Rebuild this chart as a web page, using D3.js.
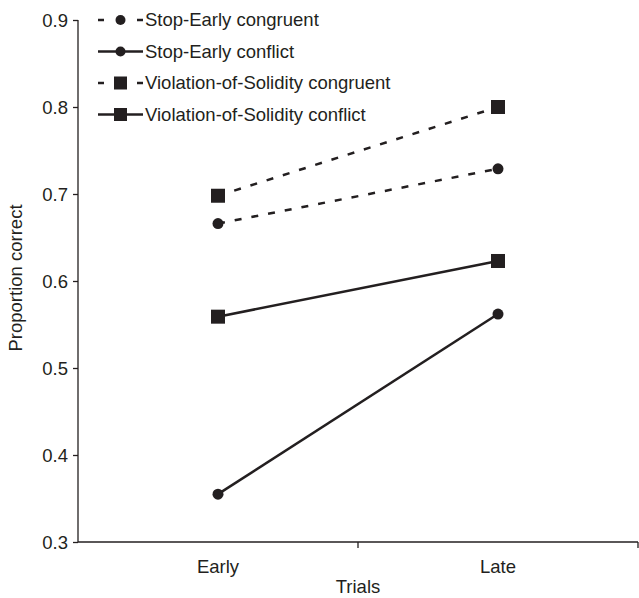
<!DOCTYPE html>
<html>
<head>
<meta charset="utf-8">
<script src="https://cdn.jsdelivr.net/npm/d3@7"></script>
<style>
  body { margin: 0; background: #fff; }
  svg text { font-family: "Liberation Sans", Arial, sans-serif; fill: #231f20; }
</style>
</head>
<body>
<div id="chart"></div>
<script>
let trials = ['Early', 'Late'];
let seriesNames = ['Stop-Early congruent', 'Stop-Early conflict', 'Violation-of-Solidity congruent', 'Violation-of-Solidity conflict'];
let stopEarlyCongruent = [0.666, 0.729];
let stopEarlyConflict = [0.355, 0.562];
let vosCongruent = [0.698, 0.80];
let vosConflict = [0.559, 0.623];
let yTicks = [0.3, 0.4, 0.5, 0.6, 0.7, 0.8, 0.9];

let series = [
    { name: seriesNames[0], values: stopEarlyCongruent, dashed: true, shape: 'circle' },
    { name: seriesNames[1], values: stopEarlyConflict, dashed: false, shape: 'circle' },
    { name: seriesNames[2], values: vosCongruent, dashed: true, shape: 'square' },
    { name: seriesNames[3], values: vosConflict, dashed: false, shape: 'square' }
];

let svgWidth = 639, svgHeight = 598;
let margin = { top: 20, right: 1, bottom: 56, left: 78 };
let width = svgWidth - margin.left - margin.right;
let height = svgHeight - margin.top - margin.bottom;
let ink = '#231f20';
let fontSize = '18.5px';

let svg = d3.select('#chart').append('svg')
    .attr('width', svgWidth)
    .attr('height', svgHeight)
    .append('g')
    .attr('transform', 'translate(' + margin.left + ',' + margin.top + ')');

let x = d3.scaleBand().domain(trials).range([0, width]);
let y = d3.scaleLinear().domain([0.3, 0.9]).range([height, 0]);

// y axis
let yAxis = svg.append('g')
    .call(d3.axisLeft(y).tickValues(yTicks).tickFormat(d3.format('.1f')).tickSize(5).tickPadding(5));
yAxis.select('.domain').attr('stroke', ink).attr('stroke-width', 1.3).attr('d', 'M0,0V' + height);
yAxis.selectAll('.tick line').attr('stroke', ink).attr('stroke-width', 1.3);
yAxis.selectAll('.tick text').style('font-size', fontSize).style('font-family', '"Liberation Sans", Arial, sans-serif').attr('fill', ink).attr('dy', '0.35em');

// x axis: ticks at band boundaries
let xg = svg.append('g').attr('transform', 'translate(0,' + height + ')');
xg.append('line').attr('x1', 0).attr('x2', width).attr('stroke', ink).attr('stroke-width', 1.3);
xg.selectAll('.bnd')
    .data(trials.slice(1))
    .enter().append('line')
    .attr('x1', d => x(d)).attr('x2', d => x(d))
    .attr('y1', 0).attr('y2', 6)
    .attr('stroke', ink).attr('stroke-width', 1.3);
xg.append('line').attr('x1', width).attr('x2', width).attr('y1', 0).attr('y2', 6)
    .attr('stroke', ink).attr('stroke-width', 1.3);
xg.selectAll('.lbl')
    .data(trials)
    .enter().append('text')
    .attr('x', d => x(d) + x.bandwidth() / 2)
    .attr('y', 31)
    .style('text-anchor', 'middle')
    .style('font-size', fontSize)
    .text(d => d);

svg.append('text')
    .attr('x', width / 2)
    .attr('y', height + 51)
    .style('text-anchor', 'middle')
    .style('font-size', fontSize)
    .text('Trials');

svg.append('text')
    .attr('transform', 'rotate(-90)')
    .attr('x', -height / 2 + 3)
    .attr('y', -56)
    .style('text-anchor', 'middle')
    .style('font-size', fontSize)
    .text('Proportion correct');

let line = d3.line()
    .x((d, i) => x(trials[i]) + x.bandwidth() / 2)
    .y(d => y(d));

function drawMarker(g, shape, cx, cy, size) {
    if (shape === 'circle') {
        g.append('circle').attr('cx', cx).attr('cy', cy).attr('r', size / 2).attr('fill', ink);
    } else {
        g.append('rect').attr('x', cx - size / 2).attr('y', cy - size / 2)
            .attr('width', size).attr('height', size).attr('fill', ink);
    }
}

series.forEach(s => {
    let g = svg.append('g');
    g.append('path')
        .datum(s.values)
        .attr('d', line)
        .attr('fill', 'none')
        .attr('stroke', ink)
        .attr('stroke-width', 2.5)
        .attr('stroke-dasharray', s.dashed ? '7,10' : null);
    s.values.forEach((v, i) => {
        drawMarker(g, s.shape, x(trials[i]) + x.bandwidth() / 2, y(v), s.shape === 'circle' ? 11 : 14);
    });
});

// legend
let legend = svg.append('g').attr('transform', 'translate(20,0)');
series.forEach((s, i) => {
    let row = legend.append('g').attr('transform', 'translate(0,' + (i * 31.5) + ')');
    if (s.dashed) {
        row.append('line').attr('x1', 0).attr('x2', 6).attr('stroke', ink).attr('stroke-width', 2.5);
        row.append('line').attr('x1', 39).attr('x2', 45).attr('stroke', ink).attr('stroke-width', 2.5);
    } else {
        row.append('line').attr('x1', 0).attr('x2', 45).attr('stroke', ink).attr('stroke-width', 2.5);
    }
    drawMarker(row, s.shape, 22.5, 0, s.shape === 'circle' ? 10 : 13);
    row.append('text')
        .attr('x', 47)
        .attr('y', 0)
        .attr('dy', '0.35em')
        .style('font-size', fontSize)
        .text(s.name);
});
</script>
</body>
</html>
